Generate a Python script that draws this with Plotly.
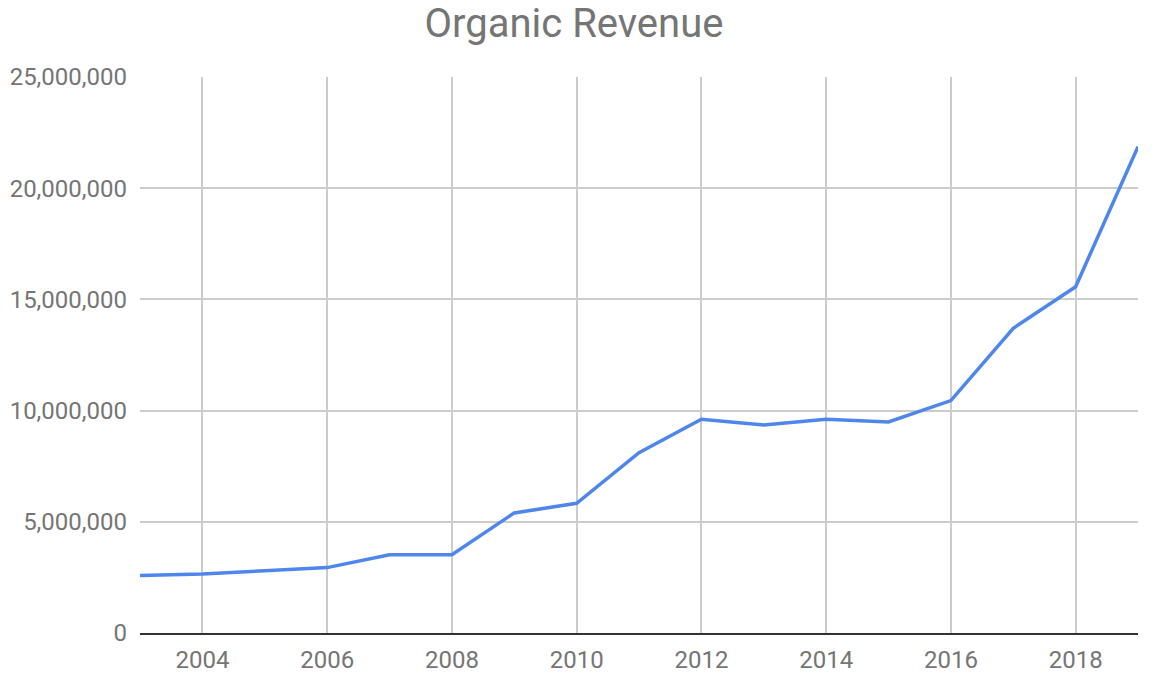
import plotly.graph_objects as go

years = list(range(2003, 2020))
revenue = [2580000, 2650000, 2800000, 2940000, 3520000, 3520000, 5400000, 5830000,
           8110000, 9610000, 9350000, 9610000, 9490000, 10450000, 13700000, 15570000, 21870000]
x_ticks = [2004, 2006, 2008, 2010, 2012, 2014, 2016, 2018]
y_ticks = [0, 5000000, 10000000, 15000000, 20000000, 25000000]

fig = go.Figure(go.Scatter(x=years, y=revenue, mode="lines",
                           line=dict(color="#4f86ec", width=3.5), hoverinfo="x+y"))

fig.update_layout(
    width=1170, height=690,
    margin=dict(l=140, r=32, t=77, b=57, autoexpand=False),
    paper_bgcolor="white", plot_bgcolor="white",
    font=dict(family="Roboto", color="#757575", size=24),
    title=dict(text="Organic Revenue", x=574 / 1170, xanchor="center", y=1 - 23 / 690,
               yanchor="middle", font=dict(family="Roboto", size=40, color="#757575")),
    showlegend=False,
    xaxis=dict(range=[2003, 2019], tickvals=x_ticks, showgrid=True, gridcolor="#cccccc",
               gridwidth=1.5, zeroline=False, showline=True, linecolor="#333333", linewidth=1.5,
               ticks="", ticklabelstandoff=4, fixedrange=True, automargin=False),
    yaxis=dict(range=[0, 25000000], tickvals=y_ticks, tickformat=",d", showgrid=True,
               gridcolor="#cccccc", gridwidth=1.5, zeroline=False, showline=False, ticks="",
               ticklabelstandoff=12, fixedrange=True, automargin=False),
)

fig.write_html("out.html")
